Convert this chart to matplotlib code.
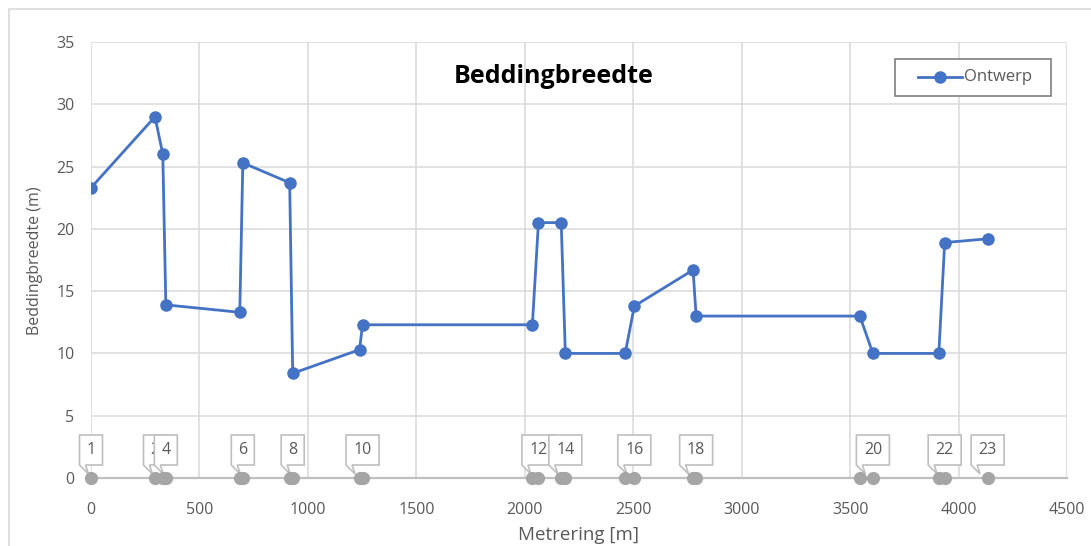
import matplotlib
matplotlib.use("Agg")
import matplotlib.pyplot as plt
import matplotlib.transforms as mtransforms
from matplotlib.patches import Polygon, Rectangle
from matplotlib.lines import Line2D

# Chainage (m) and design bed width (m) per profile point
metrering = [0, 295, 331, 345, 686, 700, 916, 930, 1238, 1252, 2035, 2063,
             2168, 2187, 2463, 2505, 2776, 2790, 3545, 3605, 3909, 3936, 4134]
breedte = [23.3, 29.0, 26.0, 13.9, 13.3, 25.3, 23.7, 8.4, 10.3, 12.3, 12.3, 20.5,
           20.5, 10.0, 10.0, 13.8, 16.7, 13.0, 13.0, 10.0, 10.0, 18.9, 19.2]
punt_nummers = list(range(1, 24))
# profile numbers that carry a callout at the axis
callout_nummers = [1, 2, 4, 6, 8, 10, 12, 14, 16, 18, 20, 22, 23]

x_ticks = [0, 500, 1000, 1500, 2000, 2500, 3000, 3500, 4000, 4500]
y_ticks = [0, 5, 10, 15, 20, 25, 30, 35]

BLUE = "#4472C4"
GREY_PT = "#A5A5A5"
GRID = "#D9D9D9"
TXT = "#595959"
FONT = "Open Sans"

W, H, DPI = 1091, 546, 100
fig = plt.figure(figsize=(W / DPI, H / DPI), dpi=DPI)
ax = fig.add_axes([91 / W, 1 - 478 / H, (1067 - 91) / W, (478 - 42) / H])

# chart-area border
fig.add_artist(Rectangle((9 / W, -0.05), 1.2, 1 - 9 / H + 0.05,
                         transform=fig.transFigure, fill=False,
                         edgecolor=GRID, linewidth=1.2))

ax.set_xlim(0, 4500)
ax.set_ylim(0, 35)
ax.set_xticks(x_ticks)
ax.set_yticks(y_ticks)
ax.grid(True, color=GRID, linewidth=1.1)
ax.set_axisbelow(True)
for side in ("top", "right", "left"):
    ax.spines[side].set_visible(False)
ax.spines["bottom"].set_color("#BFBFBF")
ax.spines["bottom"].set_linewidth(1.6)
ax.spines["bottom"].set_zorder(1.5)
ax.tick_params(length=0, labelcolor=TXT, labelsize=11.5)
ax.tick_params(axis="x", pad=17)
ax.tick_params(axis="y", pad=12)
for lab in ax.get_xticklabels() + ax.get_yticklabels():
    lab.set_fontfamily(FONT)

# design line
ax.plot(metrering, breedte, color=BLUE, linewidth=2.0, marker="o",
        markersize=8, zorder=3, label="Ontwerp")

# numbered callouts at the axis; later ones stack on top of earlier ones
px = 1 / DPI
for i, (xv, nr) in enumerate(zip(metrering, punt_nummers)):
    if nr not in callout_nummers:
        continue
    lab = str(nr)
    w = 23 if len(lab) == 1 else 33
    hl = -w / 2
    hr = w / 2
    yb, yt = 13, 43
    verts = [(hl, yb), (hl + 9, 4), (hl + 6, yb), (hr, yb), (hr, yt), (hl, yt)]
    verts = [(a * px, b * px) for a, b in verts]
    trans = fig.dpi_scale_trans + mtransforms.ScaledTranslation(xv, 0, ax.transData)
    z = 4 + i * 0.02
    poly = Polygon(verts, closed=True, transform=trans, facecolor="white",
                   edgecolor="#BFBFBF", linewidth=1.2, zorder=z, clip_on=False)
    ax.add_patch(poly)
    ax.text(0, 28 * px, lab, transform=trans, ha="center", va="center",
            fontsize=11.5, color=TXT, fontfamily=FONT, zorder=z + 0.01)

ax.plot(metrering, [0] * len(metrering), linestyle="none", marker="o",
        markersize=8.5, color=GREY_PT, zorder=6, clip_on=False)

# titles
fig.text(554 / W, 1 - 83 / H, "Beddingbreedte", ha="center", va="baseline",
         fontsize=18, fontweight="bold", color="black", fontfamily=FONT)
fig.text(35 / W, 1 - 261 / H, "Beddingbreedte (m)", rotation=90,
         ha="center", va="center", fontsize=11.5, color=TXT, fontfamily=FONT)
fig.text(579 / W, 1 - 535 / H, "Metrering [m]", ha="center", va="center",
         fontsize=13.5, color=TXT, fontfamily=FONT)

# legend box
def fx(p):
    return p / W


def fy(p):
    return 1 - p / H


fig.add_artist(Rectangle((fx(895), fy(96)), fx(1051) - fx(895), fy(59) - fy(96),
                         transform=fig.transFigure, facecolor="white",
                         edgecolor="#7F7F7F", linewidth=1.2, zorder=10))
fig.add_artist(Line2D([fx(918), fx(962)], [fy(77.5), fy(77.5)],
                      transform=fig.transFigure, color=BLUE, linewidth=2.0,
                      zorder=11))
fig.add_artist(Line2D([fx(940)], [fy(77.5)], transform=fig.transFigure,
                      color=BLUE, marker="o", markersize=8, zorder=12))
fig.text(fx(964), fy(77.5), "Ontwerp", ha="left", va="center", fontsize=12,
         color=TXT, fontfamily=FONT, zorder=12)

fig.savefig("out.png", dpi=DPI)
